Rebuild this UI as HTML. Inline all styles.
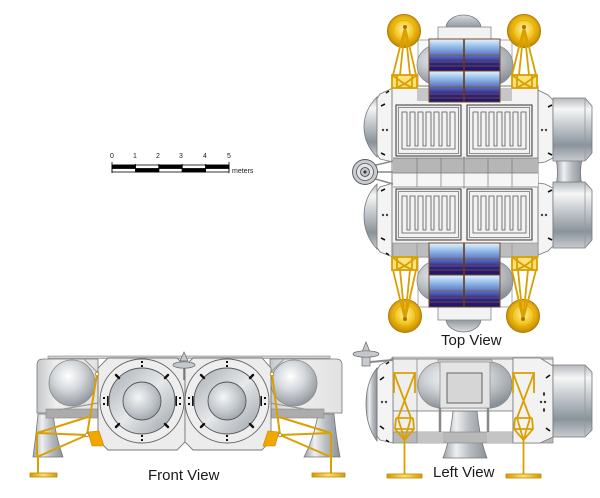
<!DOCTYPE html>
<html><head><meta charset="utf-8"><style>
html,body{margin:0;padding:0;background:#fff;}
svg{display:block;}
text{font-family:"Liberation Sans",Arial,sans-serif;fill:#1a1a1a;}
</style></head><body>
<svg width="600" height="498" viewBox="0 0 600 498" xmlns="http://www.w3.org/2000/svg">
<defs>
 <linearGradient id="cylV" x1="0" y1="0" x2="0" y2="1">
  <stop offset="0" stop-color="#b4b9be"/><stop offset="0.18" stop-color="#f6f6f6"/>
  <stop offset="0.45" stop-color="#c2c7cc"/><stop offset="0.75" stop-color="#8a939b"/>
  <stop offset="1" stop-color="#c8ccd0"/>
 </linearGradient>
 <linearGradient id="cylH" x1="0" y1="0" x2="1" y2="0">
  <stop offset="0" stop-color="#9aa1a8"/><stop offset="0.3" stop-color="#eef0f2"/>
  <stop offset="0.6" stop-color="#b8bdc2"/><stop offset="1" stop-color="#8a9299"/>
 </linearGradient>
 <radialGradient id="sph" cx="0.42" cy="0.35" r="0.7">
  <stop offset="0" stop-color="#ffffff"/><stop offset="0.45" stop-color="#d4d8dc"/>
  <stop offset="1" stop-color="#8a9097"/>
 </radialGradient>
 <radialGradient id="gold" cx="0.5" cy="0.45" r="0.55">
  <stop offset="0" stop-color="#fff3a8"/><stop offset="0.55" stop-color="#f2c21a"/>
  <stop offset="1" stop-color="#c08600"/>
 </radialGradient>
 <linearGradient id="goldL" x1="0" y1="0" x2="1" y2="0">
  <stop offset="0" stop-color="#d89a00"/><stop offset="0.5" stop-color="#ffe070"/><stop offset="1" stop-color="#d89a00"/>
 </linearGradient>
 <linearGradient id="pan" x1="0" y1="0" x2="0" y2="1">
  <stop offset="0" stop-color="#e8f2fb"/><stop offset="0.2" stop-color="#9ec6ee"/>
  <stop offset="0.5" stop-color="#5a76c6"/><stop offset="0.75" stop-color="#2c2488"/>
  <stop offset="1" stop-color="#1c1460"/>
 </linearGradient>
 <linearGradient id="dome" x1="0" y1="0" x2="0" y2="1">
  <stop offset="0" stop-color="#d8dcdf"/><stop offset="1" stop-color="#8c9399"/>
 </linearGradient>
 <linearGradient id="domeB" x1="0" y1="0" x2="0" y2="1">
  <stop offset="0" stop-color="#8c9399"/><stop offset="1" stop-color="#d8dcdf"/>
 </linearGradient>
 <radialGradient id="disc" cx="0.4" cy="0.4" r="0.7">
  <stop offset="0" stop-color="#f4f5f6"/><stop offset="0.6" stop-color="#c0c5ca"/>
  <stop offset="1" stop-color="#959ca3"/>
 </radialGradient>
 <linearGradient id="ring" x1="0" y1="0" x2="1" y2="1">
  <stop offset="0" stop-color="#a6acb2"/><stop offset="0.5" stop-color="#e6e8ea"/>
  <stop offset="1" stop-color="#9aa1a8"/>
 </linearGradient>
 <linearGradient id="box" x1="0" y1="0" x2="1" y2="0">
  <stop offset="0" stop-color="#c4c7ca"/><stop offset="0.3" stop-color="#eeeeee"/>
  <stop offset="1" stop-color="#e2e2e2"/>
 </linearGradient>
 <g id="rad">
  <rect x="0" y="0" width="65" height="51" fill="#ececec" stroke="#333" stroke-width="1"/>
  <rect x="2.5" y="2.5" width="60" height="46" fill="#f2f2f2" stroke="#666" stroke-width="0.7"/>
  <path d="M6,44 V7 H11 V41 H14 V7 H19 V41 H22 V7 H27 V41 H30 V7 H35 V41 H38 V7 H43 V41 H46 V7 H51 V41 H54 V7 H59 V44 Z" fill="none" stroke="#555" stroke-width="0.8"/>
 </g>
 <g id="legTop" fill="none" stroke="#d9a000" stroke-width="1.8">
  <rect x="0" y="0" width="25" height="13" fill="#fbe27a"/>
  <path d="M0,0 L12.5,9 L25,0 M4,13 L12.5,9 L21,13 M5,0 V13 M20,0 V13"/>
 </g>
 <g id="legL" fill="none" stroke="#d9a000" stroke-width="1.8">
  <path d="M0,0 H23 M1,0 L18,45 M22,0 L5,45 M1,0 V20 M22,0 V20 M3,45 H20 M5,45 L11.5,67 L18,45 M3,45 L2,56 L11.5,67 L21,56 L20,45 M2,56 H21 M11.5,67 V102"/>
  <rect x="-6" y="101" width="35" height="4" fill="url(#goldL)" stroke="#c08a00" stroke-width="0.8"/>
 </g>
</defs>
<rect width="600" height="498" fill="#fff"/>

<!-- ================= SCALE BAR ================= -->
<g font-size="7">
 <text x="110" y="158">0</text><text x="133" y="158">1</text><text x="156" y="158">2</text>
 <text x="179" y="158">3</text><text x="203" y="158">4</text><text x="227" y="158">5</text>
 <text x="232" y="173">meters</text>
</g>
<g stroke="#000" stroke-width="0.8">
 <rect x="112" y="165" width="117" height="7" fill="#fff"/>
 <rect x="112" y="165" width="23.4" height="3.5" fill="#000"/>
 <rect x="135.4" y="168.5" width="23.4" height="3.5" fill="#000"/>
 <rect x="158.8" y="165" width="23.4" height="3.5" fill="#000"/>
 <rect x="182.2" y="168.5" width="23.4" height="3.5" fill="#000"/>
 <rect x="205.6" y="165" width="23.4" height="3.5" fill="#000"/>
 <path d="M112,162 V173 M229,162 V173 M135.4,164 V172 M158.8,164 V172 M182.2,164 V172 M205.6,164 V172"/>
</g>

<!-- ================= TOP VIEW ================= -->
<!-- frames & spheres -->
<rect x="418" y="40" width="94" height="62" fill="#fafafa" stroke="#999" stroke-width="0.8"/>
<rect x="418" y="245" width="94" height="62" fill="#fafafa" stroke="#999" stroke-width="0.8"/>
<rect x="417" y="45" width="96" height="40" rx="20" fill="url(#sph)" stroke="#888" stroke-width="0.8"/>
<rect x="417" y="261" width="96" height="40" rx="20" fill="url(#sph)" stroke="#888" stroke-width="0.8"/>
<!-- domes -->
<path d="M446,28 A17.5,13 0 0 1 481,28 Z" fill="url(#dome)" stroke="#777" stroke-width="0.8"/>
<path d="M446,319 A17.5,13 0 0 0 481,319 Z" fill="url(#domeB)" stroke="#777" stroke-width="0.8"/>
<rect x="438" y="27" width="53" height="13" fill="#f2f2f2" stroke="#888" stroke-width="0.8"/>
<rect x="438" y="307" width="53" height="13" fill="#f2f2f2" stroke="#888" stroke-width="0.8"/>

<!-- left end caps -->
<path d="M393,88 L380,94 L376,100 L376,153 L380,159 L393,162 Z" fill="#f4f4f4" stroke="#777" stroke-width="0.8"/>
<path d="M393,183 L380,187 L376,193 L376,246 L380,252 L393,257 Z" fill="#f4f4f4" stroke="#777" stroke-width="0.8"/>
<path d="M377,97 Q364,110 364,127 Q364,144 377,157 Z" fill="url(#cylV)" stroke="#777" stroke-width="0.8"/>
<path d="M377,184 Q364,197 364,216 Q364,235 377,249 Z" fill="url(#cylV)" stroke="#777" stroke-width="0.8"/>
<g stroke="#111" stroke-width="1.6">
 <path d="M381,106 L385,104 M381,153 L385,155 M381,191 L385,189 M381,238 L385,240 M386,93 L389,91 M386,253 L389,255"/>
</g>
<g fill="#444"><circle cx="383" cy="130" r="1.2"/><circle cx="387" cy="130" r="1.2"/><circle cx="383" cy="215" r="1.2"/><circle cx="387" cy="215" r="1.2"/></g>
<!-- right transition & cylinders -->
<path d="M538,90 L548,95 L553,100 L553,158 L545,162 L538,163 Z" fill="#f4f4f4" stroke="#777" stroke-width="0.8"/>
<path d="M538,183 L545,184 L553,188 L553,246 L548,251 L538,255 Z" fill="#f4f4f4" stroke="#777" stroke-width="0.8"/>
<path d="M556,159 H582 Q579,172 582,186 H556 Q559,172 556,159 Z" fill="url(#cylH)" stroke="#777" stroke-width="0.8"/>
<path d="M553,98 H585 L592,106 V153 L585,161 H553 Z" fill="url(#cylV)" stroke="#777" stroke-width="0.8"/>
<path d="M553,182 H585 L592,190 V240 L585,248 H553 Z" fill="url(#cylV)" stroke="#777" stroke-width="0.8"/>
<path d="M585,98 V161 M585,182 V248" stroke="#999" stroke-width="0.8"/>
<g stroke="#111" stroke-width="1.6">
 <path d="M548,107 L552,105 M548,153 L552,155 M548,192 L552,190 M548,238 L552,240"/>
</g>
<g fill="#444"><circle cx="542" cy="130" r="1.2"/><circle cx="546" cy="130" r="1.2"/><circle cx="542" cy="215" r="1.2"/><circle cx="546" cy="215" r="1.2"/></g>

<!-- main body -->
<rect x="392" y="86" width="146" height="171" fill="#f4f4f4" stroke="#777" stroke-width="0.9"/>
<rect x="393" y="243" width="145" height="14" fill="#bdbdbd" stroke="#888" stroke-width="0.6"/>
<path d="M417,243 V257 M512,243 V257" stroke="#888" stroke-width="0.6"/>
<rect x="417" y="88" width="12" height="13" fill="#c6c6c6"/>
<rect x="500" y="88" width="12" height="13" fill="#c6c6c6"/>
<use href="#rad" x="396" y="105"/>
<use href="#rad" x="467" y="105"/>
<use href="#rad" x="396" y="189"/>
<use href="#rad" x="467" y="189"/>
<rect x="393" y="158" width="145" height="15" fill="#b6b6b6"/>
<rect x="393" y="173" width="145" height="14" fill="#f6f6f6"/>
<path d="M393,158 H538 M393,173 H538 M393,187 H538 M417,158 V187 M441,158 V187 M464,156 V189 M488,158 V187 M512,158 V187" stroke="#777" stroke-width="0.7"/>

<!-- docking port -->
<path d="M372,166 L393,161 M372,178 L393,184 M376,172 H393" stroke="#888" stroke-width="1.5"/>
<circle cx="365" cy="172" r="12.5" fill="#c8ccd0" stroke="#555" stroke-width="0.9"/>
<circle cx="365" cy="172" r="8.5" fill="#e2e4e6" stroke="#555" stroke-width="0.8"/>
<circle cx="365" cy="172" r="4.5" fill="#bfc3c7" stroke="#444" stroke-width="0.8"/>
<circle cx="365" cy="172" r="1.5" fill="#333"/>

<!-- solar panels -->
<g stroke="#7a4a2a" stroke-width="1">
 <rect x="429" y="39" width="35" height="32" fill="url(#pan)"/>
 <rect x="464" y="39" width="36" height="32" fill="url(#pan)"/>
 <rect x="429" y="71" width="35" height="31" fill="url(#pan)"/>
 <rect x="464" y="71" width="36" height="31" fill="url(#pan)"/>
 <rect x="429" y="243" width="35" height="32" fill="url(#pan)"/>
 <rect x="464" y="243" width="36" height="32" fill="url(#pan)"/>
 <rect x="429" y="275" width="35" height="32" fill="url(#pan)"/>
 <rect x="464" y="275" width="36" height="32" fill="url(#pan)"/>
</g>
<g stroke="#8a5530" stroke-width="0.7">
 <path d="M429,55 H500 M429,62 H500 M429,66 H500 M429,87 H500 M429,94 H500 M429,98 H500"/>
 <path d="M429,259 H500 M429,266 H500 M429,270 H500 M429,291 H500 M429,298 H500 M429,302 H500"/>
</g>
<path d="M464,39 V102 M464,243 V307" stroke="#6a3a1a" stroke-width="1.6"/>

<!-- dishes & legs top view -->
<circle cx="404" cy="31" r="16.5" fill="url(#gold)" stroke="#b07c00" stroke-width="1"/>
<circle cx="404" cy="31" r="11" fill="none" stroke="#e0a800" stroke-width="0.8"/>
<circle cx="524" cy="31" r="16.5" fill="url(#gold)" stroke="#b07c00" stroke-width="1"/>
<circle cx="524" cy="31" r="11" fill="none" stroke="#e0a800" stroke-width="0.8"/>
<circle cx="405" cy="316" r="16.5" fill="url(#gold)" stroke="#b07c00" stroke-width="1"/>
<circle cx="405" cy="316" r="11" fill="none" stroke="#e0a800" stroke-width="0.8"/>
<circle cx="523" cy="316" r="16.5" fill="url(#gold)" stroke="#b07c00" stroke-width="1"/>
<circle cx="523" cy="316" r="11" fill="none" stroke="#e0a800" stroke-width="0.8"/>
<g fill="none" stroke="#d9a000" stroke-width="1.8">
 <path d="M405,27 L393,75 M405,27 L416,75 M405,27 L400,75 M405,27 L410,75"/>
 <path d="M524,27 L512,75 M524,27 L536,75 M524,27 L519,75 M524,27 L529,75"/>
 <path d="M405,320 L393,270 M405,320 L416,270 M405,320 L400,270 M405,320 L410,270"/>
 <path d="M523,320 L512,270 M523,320 L536,270 M523,320 L518,270 M523,320 L528,270"/>
</g>
<use href="#legTop" x="392" y="75"/>
<use href="#legTop" x="512" y="75"/>
<use href="#legTop" x="392" y="257"/>
<use href="#legTop" x="512" y="257"/>
<g fill="#b07000"><circle cx="405" cy="27" r="2"/><circle cx="524" cy="27" r="2"/><circle cx="405" cy="319" r="2"/><circle cx="523" cy="319" r="2"/></g>

<text x="441" y="345" font-size="15">Top View</text>

<!-- ================= FRONT VIEW ================= -->
<rect x="48" y="356" width="282" height="2.5" fill="#cfcfcf" stroke="#888" stroke-width="0.6"/>
<!-- nozzles -->
<path d="M38,414 H53 Q56,438 63,457 H33 Q36,436 38,414 Z" fill="url(#cylH)" stroke="#777" stroke-width="0.8"/>
<path d="M318,414 H334 Q336,436 340,457 H304 Q314,438 318,414 Z" fill="url(#cylH)" stroke="#777" stroke-width="0.8"/>
<!-- side boxes -->
<path d="M98,359 H43 Q37,359 37,365 V413 H98 Z" fill="url(#box)" stroke="#777" stroke-width="0.8"/>
<path d="M270,359 H336 Q342,359 342,365 V413 H270 Z" fill="url(#box)" stroke="#777" stroke-width="0.8"/>
<rect x="46" y="409" width="52" height="9" fill="#acacac" stroke="#888" stroke-width="0.6"/>
<rect x="270" y="409" width="54" height="9" fill="#acacac" stroke="#888" stroke-width="0.6"/>
<path d="M58,410 L98,403 M310,410 L270,403" stroke="#999" stroke-width="1.2"/>
<path d="M84,359 L97,372 L110,359 M258,359 L271,372 L284,359" fill="none" stroke="#999" stroke-width="1"/>
<circle cx="72" cy="383" r="23" fill="url(#sph)" stroke="#888" stroke-width="0.8"/>
<circle cx="294" cy="383" r="23" fill="url(#sph)" stroke="#888" stroke-width="0.8"/>
<!-- octagon enclosures -->
<polygon points="108,358 177,358 185,366 185,442 177,450 108,450 98,440 98,368" fill="#ececec" stroke="#777" stroke-width="0.9"/>
<polygon points="193,358 262,358 271,368 271,440 262,450 193,450 185,442 185,366" fill="#ececec" stroke="#777" stroke-width="0.9"/>
<!-- circles -->
<circle cx="142" cy="401" r="42" fill="#eeeeee" stroke="#666" stroke-width="0.9"/>
<circle cx="142" cy="401" r="33" fill="url(#ring)" stroke="#555" stroke-width="0.9"/>
<circle cx="142" cy="401" r="19" fill="url(#disc)" stroke="#555" stroke-width="0.9"/>
<circle cx="227" cy="401" r="42" fill="#eeeeee" stroke="#666" stroke-width="0.9"/>
<circle cx="227" cy="401" r="33" fill="url(#ring)" stroke="#555" stroke-width="0.9"/>
<circle cx="227" cy="401" r="19" fill="url(#disc)" stroke="#555" stroke-width="0.9"/>
<g fill="#111">
 <rect x="141" y="361" width="2" height="2"/><rect x="141" y="365" width="2" height="2"/>
 <rect x="141" y="435" width="2" height="2"/><rect x="141" y="439" width="2" height="2"/>
 <rect x="226" y="361" width="2" height="2"/><rect x="226" y="365" width="2" height="2"/>
 <rect x="226" y="435" width="2" height="2"/><rect x="226" y="439" width="2" height="2"/>
 <rect x="103" y="397" width="2" height="2"/><rect x="103" y="403" width="2" height="2"/><rect x="107" y="396" width="1.5" height="10"/>
 <rect x="179" y="397" width="2" height="2"/><rect x="179" y="403" width="2" height="2"/><rect x="175.5" y="396" width="1.5" height="10"/>
 <rect x="188" y="397" width="2" height="2"/><rect x="188" y="403" width="2" height="2"/><rect x="192" y="396" width="1.5" height="10"/>
 <rect x="264" y="397" width="2" height="2"/><rect x="264" y="403" width="2" height="2"/><rect x="260.5" y="396" width="1.5" height="10"/>
</g>
<g stroke="#111" stroke-width="2.4" stroke-linecap="round">
 <path d="M165,378 L168,375 M119,378 L116,375 M165,424 L168,427 M119,424 L116,427"/>
 <path d="M250,378 L253,375 M204,378 L201,375 M250,424 L253,427 M204,424 L201,427"/>
</g>
<!-- antenna -->
<path d="M184,368 V380" stroke="#777" stroke-width="1.5"/>
<polygon points="180,361 184,352 188,361" fill="#c8c8c8" stroke="#666" stroke-width="0.7"/>
<ellipse cx="184" cy="365" rx="11" ry="3.2" fill="#c4c8cc" stroke="#666" stroke-width="0.7"/>
<!-- legs front view -->
<g fill="none" stroke="#d9a000" stroke-width="2">
 <path d="M97,374 L87,435 M87,435 L37,433 M88,417 L37,433 M87,435 L37,457 M37,433 V457 M38,457 V474"/>
 <path d="M272,374 L280,435 M280,435 L331,433 M279,417 L331,433 M280,435 L331,457 M331,433 V457 M331,457 V474"/>
</g>
<polygon points="88,432 99,431 104,446 92,446" fill="#f0a800" stroke="#c88400" stroke-width="0.6"/>
<polygon points="279,432 268,431 263,446 275,446" fill="#f0a800" stroke="#c88400" stroke-width="0.6"/>
<g fill="#fff" stroke="#b07c00" stroke-width="0.8">
 <circle cx="97" cy="374" r="1.8"/><circle cx="87" cy="435" r="1.8"/><circle cx="272" cy="374" r="1.8"/><circle cx="280" cy="435" r="1.8"/>
</g>
<rect x="30" y="473" width="27" height="4" fill="url(#goldL)" stroke="#c08a00" stroke-width="0.8"/>
<rect x="312" y="473" width="33" height="4" fill="url(#goldL)" stroke="#c08a00" stroke-width="0.8"/>

<text x="148" y="480" font-size="15">Front View</text>

<!-- ================= LEFT VIEW ================= -->
<!-- nozzle -->
<path d="M453,411 H477 Q480,440 487,458 H443 Q450,440 453,411 Z" fill="url(#cylH)" stroke="#777" stroke-width="0.8"/>
<rect x="392" y="357" width="161" height="2" fill="#cfcfcf" stroke="#888" stroke-width="0.5"/>
<rect x="393" y="359" width="160" height="52" fill="#eeeeee" stroke="#777" stroke-width="0.8"/>
<rect x="393" y="411" width="24" height="21" fill="#eeeeee" stroke="#777" stroke-width="0.6"/>
<rect x="513" y="411" width="40" height="21" fill="#eeeeee" stroke="#777" stroke-width="0.6"/>
<rect x="393" y="432" width="160" height="11" fill="#b8b8b8" stroke="#888" stroke-width="0.7"/>
<rect x="417" y="432" width="26" height="11" fill="#c4c4c4"/>
<rect x="487" y="432" width="26" height="11" fill="#c4c4c4"/>
<path d="M440,406 V432 M488,406 V432" stroke="#888" stroke-width="2.5"/>
<path d="M417,359 V443 M513,359 V443" stroke="#888" stroke-width="0.8"/>
<!-- capsule -->
<rect x="438" y="360" width="54" height="48" fill="#e6e6e6" stroke="#888" stroke-width="0.7"/>
<rect x="418" y="362" width="94" height="46" rx="23" fill="url(#sph)" stroke="#888" stroke-width="0.8"/>
<rect x="440" y="362" width="50" height="46" fill="#e4e4e4" stroke="#888" stroke-width="0.7"/>
<rect x="447" y="373" width="35" height="30" fill="#d6d6d6" stroke="#555" stroke-width="0.9"/>
<!-- left cap -->
<path d="M393,358 L380,365 L377,370 L377,436 L380,440 L393,443 Z" fill="#f4f4f4" stroke="#777" stroke-width="0.8"/>
<path d="M377,368 Q366,382 366,404 Q366,426 377,441 Z" fill="url(#cylH)" stroke="#777" stroke-width="0.8"/>
<g stroke="#111" stroke-width="1.6"><path d="M380,380 L384,377 M380,426 L384,429 M386,364 L389,362 M386,440 L389,442"/></g>
<g fill="#444"><circle cx="382" cy="402" r="1.2"/><circle cx="386" cy="402" r="1.2"/></g>
<!-- right section -->
<path d="M513,358 L540,358 L553,366 L553,437 L540,443 L513,443 Z" fill="#f2f2f2" stroke="#777" stroke-width="0.8"/>
<path d="M553,365 H585 L592,372 V430 L585,437 H553 Z" fill="url(#cylV)" stroke="#777" stroke-width="0.8"/>
<path d="M585,365 V437" stroke="#999" stroke-width="0.8"/>
<g stroke="#111" stroke-width="1.6"><path d="M546,378 L550,375 M546,428 L550,431"/></g>
<g fill="#333"><circle cx="541" cy="402" r="1.2"/><circle cx="545" cy="402" r="1.2"/><ellipse cx="544" cy="394" rx="1" ry="2"/><ellipse cx="544" cy="410" rx="1" ry="2"/></g>
<!-- dish -->
<path d="M370,362 L393,360" stroke="#888" stroke-width="2"/>
<rect x="362" y="356" width="8" height="10" fill="#c8ccd0" stroke="#666" stroke-width="0.7"/>
<polygon points="362,352 366,342 370,352" fill="#c8c8c8" stroke="#666" stroke-width="0.7"/>
<ellipse cx="366" cy="354" rx="13" ry="3.2" fill="#c4c8cc" stroke="#666" stroke-width="0.7"/>
<!-- legs -->
<use href="#legL" x="393" y="373"/>
<use href="#legL" x="512" y="373"/>

<text x="433" y="477" font-size="15">Left View</text>
</svg>
</body></html>
